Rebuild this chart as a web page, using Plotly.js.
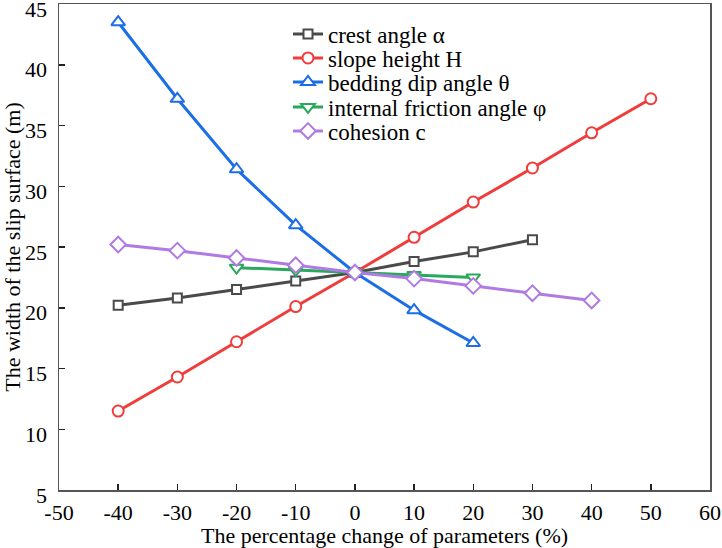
<!DOCTYPE html>
<html>
<head>
<meta charset="utf-8">
<script src="https://cdn.plot.ly/plotly-3.0.1.min.js"></script>
<style>html,body{margin:0;padding:0;background:#fff;}#chart{width:722px;height:548px;}</style>
</head>
<body>
<div id="chart"></div>
<script>
const xCrest = [-40, -30, -20, -10, 0, 10, 20, 30];
const yCrest = [20.2, 20.8, 21.5, 22.2, 22.9, 23.8, 24.6, 25.6];
const xHeight = [-40, -30, -20, -10, 0, 10, 20, 30, 40, 50];
const yHeight = [11.5, 14.3, 17.2, 20.1, 22.9, 25.8, 28.7, 31.5, 34.4, 37.2];
const xDip = [-40, -30, -20, -10, 0, 10, 20];
const yDip = [43.5, 37.2, 31.4, 26.8, 22.9, 19.8, 17.1];
const xFriction = [-20, -10, 0, 10, 20];
const yFriction = [23.3, 23.1, 22.9, 22.7, 22.5];
const xCohesion = [-40, -30, -20, -10, 0, 10, 20, 30, 40];
const yCohesion = [25.2, 24.7, 24.1, 23.5, 22.9, 22.4, 21.8, 21.2, 20.6];
const names = ['crest angle α', 'slope height H', 'bedding dip angle θ', 'internal friction angle φ', 'cohesion c'];
const xTicks = [-50, -40, -30, -20, -10, 0, 10, 20, 30, 40, 50, 60];
const yTicks = [5, 10, 15, 20, 25, 30, 35, 40, 45];

const FAM = '"Liberation Serif", "Times New Roman", serif';
const legendIds = ['legend', 'legend2', 'legend3', 'legend4', 'legend5'];

function tr(i, x, y, color, symbol, size) {
  return {
    x: x, y: y, name: names[i], type: 'scatter', mode: 'lines+markers',
    legend: legendIds[i],
    line: {color: color, width: 3},
    marker: {symbol: symbol, size: size, color: '#fff', line: {color: color, width: 2}}
  };
}
const data = [
  tr(0, xCrest, yCrest, '#4a4a4a', 'square', 9),
  tr(1, xHeight, yHeight, '#f03c3a', 'circle', 11),
  tr(2, xDip, yDip, '#1c6ee6', 'triangle-up', 12),
  tr(3, xFriction, yFriction, '#2aa85c', 'triangle-down', 12),
  tr(4, xCohesion, yCohesion, '#b07ae3', 'diamond', 12)
];

const plotTop = 4, plotBottom = 490, plotH = plotBottom - plotTop;
const rowY = [34, 58, 82, 107, 131];
const layout = {
  width: 722, height: 548,
  margin: {l: 59, r: 12, t: 4, b: 58},
  paper_bgcolor: '#fff', plot_bgcolor: '#fff',
  font: {family: FAM, color: '#000', size: 22},
  showlegend: true,
  xaxis: {
    range: [-50, 60], tickvals: xTicks, ticktext: xTicks.map(String),
    ticks: 'inside', ticklen: 6, tickwidth: 1.5, tickcolor: '#222',
    showline: true, linecolor: '#555', linewidth: 1.5, mirror: true,
    showgrid: false, zeroline: false, ticklabeloverflow: 'allow', ticklabelstandoff: 2,
    title: {text: 'The percentage change of parameters (%)', font: {family: FAM, size: 22}, standoff: 0},
    tickfont: {family: FAM, size: 22}
  },
  yaxis: {
    range: [5, 45], tickvals: yTicks, ticktext: yTicks.map(String),
    ticks: 'inside', ticklen: 6, tickwidth: 1.5, tickcolor: '#222',
    showline: true, linecolor: '#555', linewidth: 1.5, mirror: true,
    showgrid: false, zeroline: false, ticklabeloverflow: 'allow', ticklabelstandoff: 6,
    ticklabelshift: 5,
    title: {text: 'The width of the slip surface (m)', font: {family: FAM, size: 22}, standoff: 0},
    tickfont: {family: FAM, size: 22}
  }
};
legendIds.forEach(function (id, i) {
  layout[id] = {
    x: (288 - 59) / 651, xanchor: 'left',
    y: (plotBottom - rowY[i]) / plotH, yanchor: 'middle',
    bgcolor: 'rgba(0,0,0,0)', borderwidth: 0,
    font: {family: FAM, size: 23, color: '#000'}
  };
});
Plotly.newPlot('chart', data, layout, {displayModeBar: false, staticPlot: true});
</script>
</body>
</html>
